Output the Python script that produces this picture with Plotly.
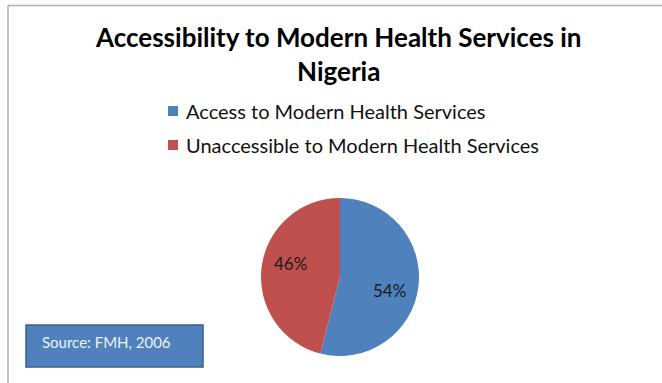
import math
import plotly.graph_objects as go

labels = ["Access to Modern Health Services", "Unaccessible to Modern Health Services"]
values = [54, 46]
colors = ["#4F81BD", "#C0504D"]
title_text = "Accessibility to Modern Health Services in<br>Nigeria"
source_text = "Source: FMH, 2006"

W, H = 662, 383
def px(x):
    return x / W
def py(y):
    return 1 - y / H

# pie geometry (pixels)
cx, cy, r = 340, 277, 79

fig = go.Figure()
fig.add_trace(go.Pie(
    labels=labels, values=values, sort=False, direction="clockwise", rotation=0,
    marker=dict(colors=colors, line=dict(width=0)),
    textinfo="none",
    domain=dict(x=[px(cx - r), px(cx + r)], y=[py(cy + r), py(cy - r)]),
    showlegend=False, hoverinfo="label+percent",
))

shapes = []
annotations = []
# percent labels placed along slice mid-angles (slightly rotated like the original)
total = sum(values)
cum = 0
for v in values:
    mid = (cum + v / 2) / total * 2 * math.pi + math.radians(8)
    cum += v
    lx = cx + 0.65 * r * math.sin(mid)
    ly = cy - 0.65 * r * math.cos(mid)
    annotations.append(dict(text=f"{round(v / total * 100)}%", xref="paper", yref="paper",
                            x=px(lx), y=py(ly), xanchor="center", yanchor="middle", showarrow=False,
                            font=dict(size=17, color="#1a1a1a", family="Lato")))

# border lines
shapes.append(dict(type="line", xref="paper", yref="paper", x0=px(8), x1=1, y0=py(5.5), y1=py(5.5),
                   line=dict(color="#b0b0b0", width=1.5)))
shapes.append(dict(type="line", xref="paper", yref="paper", x0=px(8), x1=px(8), y0=py(5.5), y1=0,
                   line=dict(color="#b0b0b0", width=1.5)))
# legend
for i, (lab, col) in enumerate(zip(labels, colors)):
    yc = 111 + i * 34
    shapes.append(dict(type="rect", xref="paper", yref="paper",
                       x0=px(168), x1=px(178), y0=py(yc + 5), y1=py(yc - 5),
                       fillcolor=col, line=dict(width=0)))
    annotations.append(dict(text=lab, xref="paper", yref="paper", x=px(184), y=py(yc),
                            xanchor="left", yanchor="middle", showarrow=False,
                            font=dict(size=20, color="#111111", family="Lato")))
# source box
shapes.append(dict(type="rect", xref="paper", yref="paper",
                   x0=px(26), x1=px(203), y0=py(367), y1=py(325),
                   fillcolor="#4F81BD", line=dict(color="#3A5F8E", width=1.5)))
annotations.append(dict(text=source_text, xref="paper", yref="paper", x=px(40), y=py(342),
                        xanchor="left", yanchor="middle", showarrow=False,
                        font=dict(size=15, color="#eef2f8", family="Lato")))
# title
annotations.append(dict(text="<b>" + title_text + "</b>", xref="paper", yref="paper", x=px(338), y=py(54),
                        xanchor="center", yanchor="middle", showarrow=False,
                        font=dict(size=26, color="#000000", family="Lato")))

fig.update_layout(
    width=W, height=H, margin=dict(l=0, r=0, t=0, b=0),
    paper_bgcolor="white", plot_bgcolor="white",
    shapes=shapes, annotations=annotations,
)
fig.write_html("out.html")
